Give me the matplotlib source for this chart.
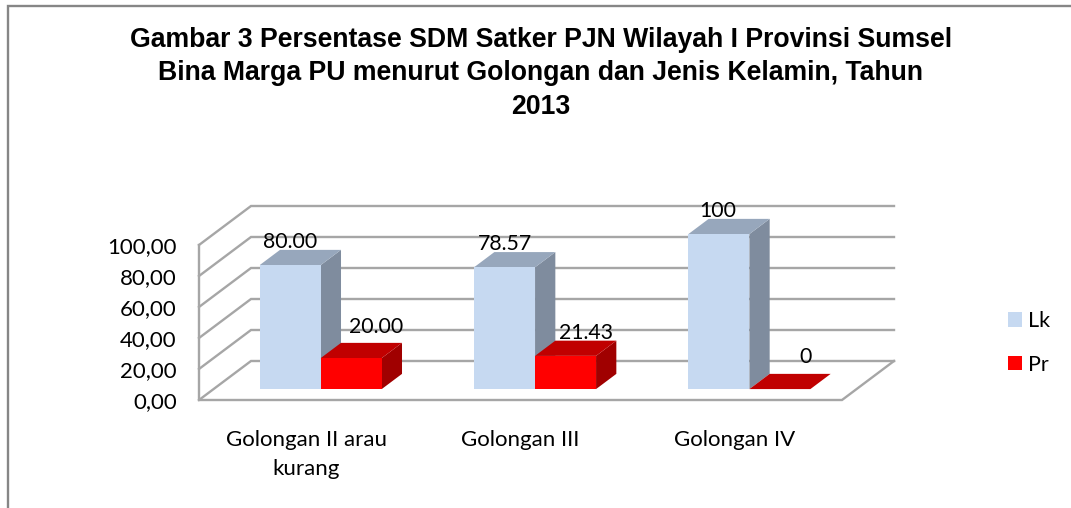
import matplotlib
matplotlib.use("Agg")
import matplotlib.pyplot as plt
from matplotlib.patches import Polygon, Patch
from matplotlib.lines import Line2D

# ---- data ----
categories = ["Golongan II arau\nkurang", "Golongan III", "Golongan IV"]
lk_values = [80.00, 78.57, 100.0]
pr_values = [20.00, 21.43, 0.0]
lk_labels = ["80.00", "78.57", "100"]
pr_labels = ["20.00", "21.43", "0"]
y_ticks = [0, 20, 40, 60, 80, 100]
y_tick_labels = ["0,00", "20,00", "40,00", "60,00", "80,00", "100,00"]
title_lines = ["Gambar 3 Persentase SDM Satker PJN Wilayah I Provinsi Sumsel",
               "Bina Marga PU menurut Golongan dan Jenis Kelamin, Tahun",
               "2013"]

W, H = 1071, 508
fig = plt.figure(figsize=(W / 100, H / 100), dpi=100, facecolor="white")

def fx(p): return p / W
def fy(p): return 1 - p / H

# front plane of the pseudo-3D box
L, R, T, B = 199, 842, 245, 400
ax = fig.add_axes([fx(L), fy(B), (R - L) / W, (B - T) / H])
ax.set_xlim(0, 3)
ax.set_ylim(0, 100)
ax.patch.set_visible(False)
for s in ax.spines.values():
    s.set_visible(False)

# depth vector in data units (depth 1 = back wall)
DX = 52 / ((R - L) / 3)
DY = 39 / ((B - T) / 100)

def P(x, y, d):
    return (x + d * DX, y + d * DY)

GRID = "#A6A6A6"
for v in y_ticks:
    ax.add_line(Line2D(*zip(P(0, v, 0), P(0, v, 1), P(3, v, 1)), color=GRID, lw=1.7,
                       clip_on=False, zorder=1, solid_joinstyle="miter"))
ax.add_line(Line2D(*zip(P(0, 100, 0), P(0, 0, 0), P(3, 0, 0), P(3, 0, 1)), color=GRID, lw=1.7,
                   clip_on=False, zorder=1, solid_joinstyle="miter"))

D0, D1 = 0.28, 0.67
BW = 61 / ((R - L) / 3)

def box(x0, w, h, front, top, side, z):
    x1 = x0 + w
    if h > 0:
        ax.add_patch(Polygon([P(x1, 0, D0), P(x1, 0, D1), P(x1, h, D1), P(x1, h, D0)],
                             fc=side, ec="none", clip_on=False, zorder=z))
        ax.add_patch(Polygon([P(x0, 0, D0), P(x1, 0, D0), P(x1, h, D0), P(x0, h, D0)],
                             fc=front, ec="none", clip_on=False, zorder=z + 0.2))
    ax.add_patch(Polygon([P(x0, h, D0), P(x1, h, D0), P(x1, h, D1), P(x0, h, D1)],
                         fc=top, ec="none", clip_on=False, zorder=z + 0.1))

LABEL_FS = 15.3
TICK_FS = 16
lk_offsets = [(0, 23), (0, 23), (-1, 23)]
pr_offsets = [(25, 31), (20, 23), (26, 32)]
for i in range(len(categories)):
    c = i + 0.5
    box(c - BW, BW, lk_values[i], "#C6D9F1", "#97A7BC", "#7F8C9E", 2)
    box(c, BW, pr_values[i], "#FF0000", "#C00000", "#A00000", 3)

    x, y = P(c - BW / 2, lk_values[i], D0)
    ax.annotate(lk_labels[i], (x, y), xytext=lk_offsets[i], textcoords="offset pixels",
                ha="center", va="center", fontsize=LABEL_FS, family="Lato",
                color="black", annotation_clip=False, zorder=6)
    x, y = P(c + BW / 2, pr_values[i], D0)
    ax.annotate(pr_labels[i], (x, y), xytext=pr_offsets[i], textcoords="offset pixels",
                ha="center", va="center", fontsize=LABEL_FS, family="Lato",
                color="black", annotation_clip=False, zorder=6)

ax.set_yticks(y_ticks)
ax.set_yticklabels(y_tick_labels, family="Lato", fontsize=TICK_FS)
ax.set_xticks([i + 0.5 for i in range(len(categories))])
ax.set_xticklabels(categories, family="Lato", fontsize=TICK_FS, linespacing=1.58)
ax.tick_params(axis="y", length=0, pad=16)
ax.tick_params(axis="x", length=0, pad=21.5)

# legend
handles = [Patch(fc="#C6D9F1", ec="none", label="Lk"), Patch(fc="#FF0000", ec="none", label="Pr")]
fig.legend(handles=handles, loc="center left", bbox_to_anchor=(fx(1008), fy(343)),
           frameon=False, prop={"family": "Lato", "size": 15.5},
           borderpad=0, borderaxespad=0, handlelength=0.65, handleheight=0.65,
           handletextpad=0.28, labelspacing=1.1)

# title
for line, yp in zip(title_lines, [40, 73, 107]):
    fig.text(fx(541), fy(yp), line, ha="center", va="center", fontsize=19.2,
             fontweight="bold", family="Liberation Sans", color="black")

# chart-area frame (top and left edges only)
FRAME = "#868686"
fig.add_artist(Line2D([fx(8), fx(8), 1], [0, fy(6), fy(6)], transform=fig.transFigure,
                      color=FRAME, lw=1.7, solid_joinstyle="miter"))

fig.savefig("out.png", dpi=100, facecolor="white")
